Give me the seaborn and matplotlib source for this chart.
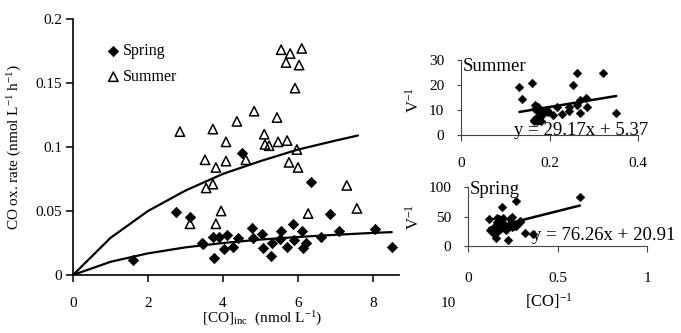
import numpy as np
import pandas as pd
import matplotlib
matplotlib.use("Agg")
import matplotlib.pyplot as plt
import seaborn as sns
from matplotlib.ticker import FuncFormatter

# ---------------- data ----------------
spring_co = [1.6, 2.75, 3.12, 3.44, 3.47, 3.76, 3.73, 3.9, 4.03, 4.1, 4.26, 4.4, 4.5,
             4.77, 4.8, 5.03, 5.07, 5.28, 5.3, 5.52, 5.55, 5.7, 5.87, 5.9, 6.1, 6.14,
             6.2, 6.35, 6.6, 6.85, 7.1, 8.05, 8.5]
spring_rate = [0.012, 0.049, 0.045, 0.025, 0.024, 0.013, 0.030, 0.030, 0.020, 0.031,
               0.022, 0.029, 0.095, 0.037, 0.029, 0.032, 0.021, 0.015, 0.025, 0.028,
               0.034, 0.022, 0.040, 0.027, 0.034, 0.021, 0.025, 0.073, 0.030, 0.048,
               0.034, 0.036, 0.022]

summer_co = [2.85, 3.12, 3.52, 3.55, 3.73, 3.73, 3.81, 3.81, 3.95, 4.08, 4.08, 4.37,
             4.61, 4.83, 5.1, 5.12, 5.23, 5.44, 5.47, 5.55, 5.68, 5.71, 5.76, 5.79,
             5.92, 5.97, 6.0, 6.03, 6.1, 6.27, 7.3, 7.57]
summer_rate = [0.112, 0.040, 0.090, 0.068, 0.114, 0.071, 0.084, 0.040, 0.050, 0.104,
               0.089, 0.120, 0.090, 0.128, 0.110, 0.102, 0.101, 0.123, 0.104, 0.176,
               0.166, 0.105, 0.088, 0.173, 0.146, 0.098, 0.084, 0.164, 0.177, 0.048,
               0.070, 0.052]

# fitted curves (Michaelis-Menten)
curve_x_summer = [0, 1, 2, 3, 4, 5, 6, 7, 7.6]
curve_y_summer = [0, 0.029, 0.050, 0.066, 0.079, 0.089, 0.098, 0.105, 0.109]
curve_x_spring = [0, 1, 2, 3, 4, 5, 6, 7, 8, 8.5]
curve_y_spring = [0, 0.0103, 0.0169, 0.0216, 0.0250, 0.0277, 0.0297, 0.0314, 0.0329, 0.0335]

# Lineweaver-Burk trend lines shown in the insets
summer_slope, summer_intercept = 29.17, 5.37
spring_slope, spring_intercept = 76.26, 20.91
summer_eq = "y = 29.17x + 5.37"
spring_eq = "y = 76.26x + 20.91"

main_xticks = [0, 2, 4, 6, 8, 10]
main_yticks = [0, 0.05, 0.1, 0.15, 0.2]
summer_xticks = [0, 0.2, 0.4]
summer_yticks = [0, 10, 20, 30]
spring_xticks = [0, 0.5, 1]
spring_yticks = [0, 50, 100]

# ---------------- style ----------------
sns.set_style("ticks")
plt.rcParams['font.family'] = ['Liberation Serif', 'DejaVu Serif']
plt.rcParams['mathtext.fontset'] = 'custom'
plt.rcParams['mathtext.rm'] = 'Liberation Serif'
plt.rcParams['mathtext.it'] = 'Liberation Serif:italic'
plt.rcParams['text.color'] = 'black'
plt.rcParams['axes.labelcolor'] = 'black'
plt.rcParams['xtick.color'] = 'black'
plt.rcParams['ytick.color'] = 'black'

W, H = 681, 333
fig = plt.figure(figsize=(W / 100, H / 100), dpi=100)
fig.patch.set_facecolor('white')

def fr(x0, y_bottom, x1, y_top):
    return [x0 / W, (H - y_bottom) / H, (x1 - x0) / W, (y_bottom - y_top) / H]

# ---------------- main plot ----------------
ax = fig.add_axes(fr(73, 275, 448, 19))
sp = pd.DataFrame({'x': spring_co, 'y': spring_rate})
su = pd.DataFrame({'x': summer_co, 'y': summer_rate})
sns.lineplot(x=curve_x_summer, y=curve_y_summer, ax=ax, color='black', lw=1.6, sort=False)
sns.lineplot(x=curve_x_spring, y=curve_y_spring, ax=ax, color='black', lw=1.6, sort=False)
sns.scatterplot(data=sp, x='x', y='y', ax=ax, marker='D', s=28, color='black',
                edgecolor='black', linewidth=0.5, label='Spring', zorder=3)
sns.scatterplot(data=su, x='x', y='y', ax=ax, marker='^', s=45, facecolor='none',
                edgecolor='black', linewidth=1.1, label='Summer', zorder=3)
ax.set_xlim(0, 10)
ax.set_ylim(0, 0.2)
ax.set_xticks(main_xticks)
ax.set_yticks(main_yticks)
ax.yaxis.set_major_formatter(FuncFormatter(lambda v, p: f"{v:g}"))
ax.xaxis.get_major_ticks()[-1].tick1line.set_visible(False)
ax.spines['bottom'].set_bounds(0, 8.7)
for s in ['top', 'right']:
    ax.spines[s].set_visible(False)
for s in ['left', 'bottom']:
    ax.spines[s].set_linewidth(1.2)
    ax.spines[s].set_color('black')
ax.tick_params(axis='x', length=5, width=1.1, pad=11, labelsize=11)
ax.tick_params(axis='y', length=5, width=1.1, pad=3, labelsize=11)
ax.set_xlabel(r"[CO]$_{\mathrm{inc}}$  (nmol L$^{-1}$)", fontsize=11)
ax.set_ylabel(r"CO ox. rate (nmol L$^{-1}$ h$^{-1}$)", fontsize=11)
ax.xaxis.set_label_coords(0.504, -0.135)
ax.yaxis.set_label_coords(-0.13, 0.5)
ax.legend(loc='upper left', bbox_to_anchor=(0.065, 0.93), frameon=False, fontsize=11.5,
          handletextpad=0.0, labelspacing=0.6, borderaxespad=0, handlelength=1.2)

# ---------------- Summer inset ----------------
a1 = fig.add_axes(fr(461, 135, 638, 60))
a1.patch.set_alpha(0)
su_inv = pd.DataFrame({'x': 1 / np.array(summer_co), 'y': 1 / np.array(summer_rate)})
sns.scatterplot(data=su_inv, x='x', y='y', ax=a1, marker='D', s=20, color='black',
                edgecolor='black', linewidth=0.3, zorder=3)
lx = np.array([min(su_inv['x']), max(su_inv['x'])])
sns.lineplot(x=lx, y=summer_slope * lx + summer_intercept, ax=a1, color='black', lw=1.8)
a1.set_xlim(0, 0.4)
a1.set_ylim(0, 30)
a1.set_xticks(summer_xticks)
a1.set_yticks(summer_yticks)
a1.xaxis.set_major_formatter(FuncFormatter(lambda v, p: f"{v:g}"))
a1.set_xlabel("")
a1.set_ylabel(r"V$^{-1}$", fontsize=12)
a1.yaxis.set_label_coords(-0.215, 0.47)
a1.text(0.01, 0.91, "Summer", transform=a1.transAxes, fontsize=13.5, va='center', ha='left')
a1.text(0.30, 0.0, summer_eq, transform=a1.transAxes, fontsize=13.5, va='baseline', ha='left')

# ---------------- Spring inset ----------------
a2 = fig.add_axes(fr(468, 246, 647, 187))
a2.patch.set_alpha(0)
sp_inv = pd.DataFrame({'x': 1 / np.array(spring_co), 'y': 1 / np.array(spring_rate)})
sns.scatterplot(data=sp_inv, x='x', y='y', ax=a2, marker='D', s=20, color='black',
                edgecolor='black', linewidth=0.3, zorder=3)
lx2 = np.array([min(sp_inv['x']), max(sp_inv['x'])])
sns.lineplot(x=lx2, y=spring_slope * lx2 + spring_intercept, ax=a2, color='black', lw=1.8)
a2.set_xlim(0, 1)
a2.set_ylim(0, 100)
a2.set_xticks(spring_xticks)
a2.set_yticks(spring_yticks)
a2.xaxis.set_major_formatter(FuncFormatter(lambda v, p: f"{v:g}"))
a2.set_xlabel(r"[CO]$^{-1}$", fontsize=12)
a2.xaxis.set_label_coords(0.45, -0.76)
a2.set_ylabel(r"V$^{-1}$", fontsize=12)
a2.yaxis.set_label_coords(-0.255, 0.49)
a2.text(0.01, 0.95, "Spring", transform=a2.transAxes, fontsize=13.5, va='center', ha='left')
a2.text(0.36, 0.1, spring_eq, transform=a2.transAxes, fontsize=13.5, va='baseline', ha='left')

for a, xpad in ((a1, 12), (a2, 15)):
    for s in ['top', 'right']:
        a.spines[s].set_visible(False)
    for s in ['left', 'bottom']:
        a.spines[s].set_linewidth(0.8)
        a.spines[s].set_color('#444444')
    a.tick_params(axis='x', length=4, width=0.8, color='#444444', pad=xpad, labelsize=11)
    a.tick_params(axis='y', length=3, width=0.8, color='#444444', pad=9, labelsize=11)
    if a.get_legend():
        a.get_legend().remove()

fig.savefig("out.png", dpi=100, facecolor='white')
